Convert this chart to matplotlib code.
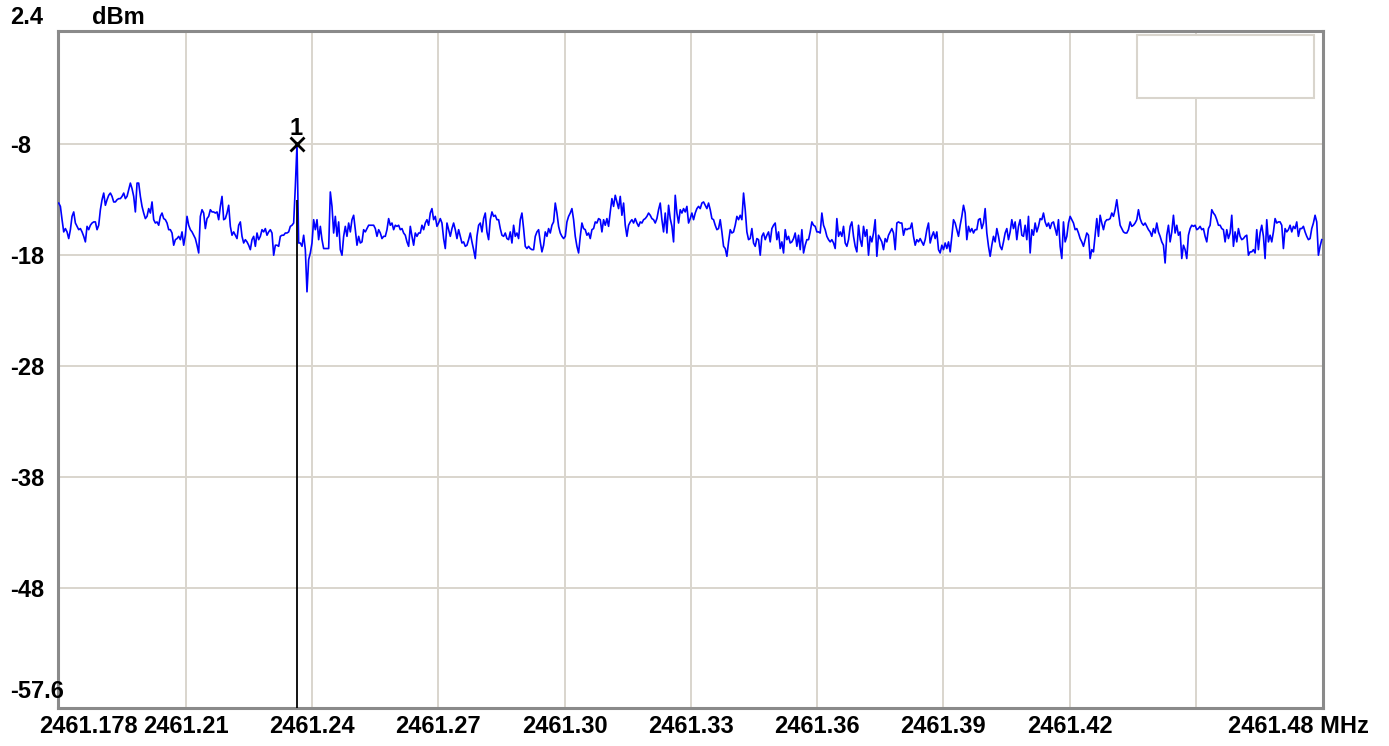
import numpy as np
import matplotlib
matplotlib.use("Agg")
import matplotlib.pyplot as plt
from matplotlib.patches import Rectangle

F_START = 2461.1798
F_STOP = 2461.4799
X_LIMITS = (2461.1797, 2461.4802)
Y_LIMITS = (-58.81, 2.18)

GRID_DBM = [-8, -18, -28, -38, -48]
GRID_DBM_LABELS = ["-8", "-18", "-28", "-38", "-48"]
GRID_MHZ = [2461.21, 2461.24, 2461.27, 2461.30, 2461.33, 2461.36, 2461.39, 2461.42, 2461.45]
GRID_MHZ_LABELS = ["2461.21", "2461.24", "2461.27", "2461.30", "2461.33",
                   "2461.36", "2461.39", "2461.42", ""]
TOP_LABEL = "2.4"
BOTTOM_LABEL = "-57.6"
UNIT_LABEL = "dBm"
START_LABEL = "2461.178"
STOP_LABEL = "2461.48 MHz"
MARKER_LABEL = "1"

TRACE_1 = [
    -13.3, -13.6, -14.8, -15.9, -15.6, -15.9, -16.5, -15.7, -14.5, -14.1,
    -15.1, -15.4, -15.7, -15.6, -15.9, -16.3, -16.8, -15.4, -15.7, -15.3,
    -15.1, -15.0, -15.0, -15.7, -15.3, -13.9, -13.0, -12.4, -13.5, -13.0,
    -12.6, -12.4, -12.7, -13.2, -13.2, -13.0, -12.9, -12.9, -12.7, -12.4,
    -12.9, -12.7, -12.1, -11.5, -12.0, -12.7, -14.1, -11.5, -11.5, -12.7,
    -13.6, -14.2, -14.7, -14.5, -13.8, -14.2, -13.2, -14.8, -15.1, -15.0,
    -15.3, -14.5, -14.2, -14.7, -14.8, -15.1, -15.7, -15.7, -16.0, -17.1,
    -16.6, -16.5, -16.3, -16.6, -15.9, -17.1, -16.2, -14.5, -15.3, -15.7,
    -15.9, -16.2, -16.5, -17.1, -17.8, -14.5, -13.9, -14.2, -15.6, -14.7,
    -14.5, -13.9, -14.1, -14.1, -14.2, -14.1, -14.8, -13.6, -12.7, -14.8,
    -14.7, -14.2, -13.5, -15.4, -16.2, -15.9, -16.2, -16.5, -15.3, -15.0,
    -16.3, -16.9, -16.6, -16.8, -17.1, -17.5, -16.6, -16.3, -17.2, -16.0,
    -16.6, -16.3, -15.7, -15.9, -15.6, -16.2, -15.9, -15.7,
]
TRACE_2 = [
    -16.0, -18.0, -17.1, -17.1, -17.2, -16.3, -16.2, -16.2, -16.0, -16.0,
    -15.9, -15.4, -15.3, -15.1, -11.8, -8.0, -16.9, -16.9, -17.2, -16.2,
    -17.5, -21.3, -18.4, -17.8, -16.9, -14.8, -15.7, -14.8, -16.6, -15.4,
    -16.6, -17.4, -17.4, -17.4, -17.4, -12.3, -13.6, -16.0, -14.5, -16.3,
    -15.0, -17.5, -18.0, -16.3, -15.4, -16.3, -15.1, -15.9, -14.8, -14.4,
    -15.7, -17.1, -16.3, -16.9, -16.8, -15.7, -15.9, -15.6, -15.3, -15.3,
    -15.3, -15.3, -15.6, -16.3, -15.7, -16.0, -16.5, -16.3, -16.3, -15.7,
    -14.7, -15.3, -15.1, -15.7, -15.3, -15.4, -15.3, -15.7, -15.6, -16.0,
    -16.2, -16.8, -17.2, -15.4, -16.3, -17.1, -16.0, -16.3, -16.0, -16.0,
    -15.3, -15.7, -15.1, -14.8, -15.3, -14.2, -13.8, -14.8, -14.5, -15.4,
    -15.1, -14.7, -15.1, -16.5, -17.4, -15.1, -15.7, -16.3, -15.6, -15.1,
    -15.7, -16.5, -15.7, -16.3, -16.9, -16.8, -17.2, -17.1, -16.6, -16.0,
    -16.8, -17.5, -18.3, -16.3, -15.3, -15.1,
]
TRACE_3 = [
    -15.9, -14.7, -14.2, -15.9, -16.6, -14.8, -14.1, -14.5, -14.4, -14.8,
    -14.8, -15.6, -16.2, -16.3, -16.0, -16.5, -16.6, -15.9, -16.9, -15.3,
    -16.3, -16.0, -16.5, -14.8, -14.2, -15.6, -17.2, -17.4, -17.2, -17.4,
    -17.5, -17.5, -16.3, -15.9, -15.7, -16.8, -17.7, -17.1, -15.9, -16.3,
    -15.6, -16.0, -15.3, -15.0, -13.3, -14.2, -15.4, -16.0, -16.3, -16.5,
    -16.3, -15.0, -14.5, -14.2, -13.8, -14.8, -16.3, -17.2, -17.8, -16.3,
    -15.1, -15.6, -15.7, -16.2, -16.0, -16.5, -15.7, -15.6, -15.0, -15.1,
    -14.7, -14.8, -15.9, -14.8, -15.3, -14.7, -15.4, -14.1, -12.9, -13.6,
    -12.6, -13.2, -13.8, -12.7, -14.4, -13.3, -15.3, -16.3, -15.3, -15.0,
    -14.8, -15.1, -14.7, -15.1, -15.4, -15.0, -15.1, -14.8, -14.7, -14.5,
    -14.2, -14.4, -14.7, -14.8, -15.1, -14.7, -13.9, -13.3, -14.8, -15.9,
    -14.2, -16.0, -13.5, -14.7, -15.4, -16.8, -12.6, -14.2, -15.1, -13.9,
    -14.2, -13.8, -14.1, -13.6, -15.1, -14.7,
]
TRACE_4 = [
    -14.2, -14.8, -14.2, -13.8, -13.6, -13.8, -13.3, -13.2, -13.5, -13.8,
    -13.3, -13.9, -14.7, -14.8, -15.3, -15.7, -15.6, -14.8, -15.9, -17.2,
    -17.4, -18.1, -16.8, -15.7, -16.0, -15.9, -15.3, -14.5, -14.8, -14.4,
    -14.8, -12.4, -13.9, -15.9, -16.6, -16.5, -15.6, -16.9, -17.2, -16.5,
    -16.6, -18.0, -16.3, -16.0, -16.6, -16.2, -15.9, -16.8, -15.6, -15.3,
    -15.1, -16.6, -15.9, -17.4, -16.8, -17.8, -15.7, -16.6, -16.3, -16.9,
    -16.8, -16.5, -16.0, -17.2, -16.2, -17.5, -15.7, -17.8, -17.1, -16.6,
    -16.6, -15.9, -15.0, -15.3, -15.4, -15.9, -15.9, -16.0, -14.2, -15.3,
    -15.7, -16.3, -16.6, -16.8, -16.6, -16.9, -17.4, -14.7, -16.3, -15.9,
    -16.3, -15.4, -16.9, -17.2, -16.6, -15.4, -15.0, -16.3, -17.2, -17.7,
    -15.3, -16.6, -17.2, -15.4, -16.3, -15.7, -18.0, -16.3, -16.8, -16.0,
    -14.8, -18.1, -16.2, -16.5, -16.8, -17.5, -16.5, -16.8, -16.2, -15.9,
    -15.6, -16.0, -17.5, -15.1, -15.0, -15.1,
]
TRACE_5 = [
    -15.1, -16.2, -15.6, -15.7, -15.6, -15.6, -15.1, -16.3, -17.1, -16.6,
    -16.8, -16.5, -16.8, -17.1, -16.6, -15.7, -15.1, -16.9, -16.3, -15.9,
    -16.5, -15.9, -17.5, -17.8, -17.1, -17.5, -16.9, -17.4, -16.8, -17.7,
    -16.3, -14.8, -15.1, -15.7, -16.3, -15.3, -14.5, -13.5, -14.2, -16.6,
    -15.4, -15.9, -15.6, -16.0, -15.7, -15.7, -14.8, -14.7, -15.6, -15.1,
    -13.8, -16.0, -17.2, -18.1, -17.1, -16.3, -16.8, -15.6, -16.3, -17.2,
    -17.5, -16.8, -16.0, -15.6, -16.6, -15.9, -14.8, -15.6, -15.0, -16.6,
    -15.4, -14.8, -16.2, -16.3, -15.3, -16.6, -14.5, -17.8, -15.7, -16.2,
    -15.1, -15.9, -15.4, -14.7, -14.8, -14.2, -15.0, -15.4, -15.1, -15.6,
    -15.1, -15.0, -15.6, -16.2, -14.8, -17.2, -18.3, -15.0, -16.8, -16.3,
    -15.1, -14.5, -14.8, -15.1, -15.7, -15.6, -16.0, -16.5, -16.8, -17.2,
    -16.6, -16.0, -16.2, -18.3, -17.5, -17.7, -16.2, -14.7, -16.3, -14.4,
    -15.1, -15.7, -15.0, -14.8, -14.8, -14.7,
]
TRACE_6 = [
    -14.2, -14.5, -13.9, -13.0, -14.2, -15.3, -15.6, -15.9, -16.0, -16.0,
    -15.7, -15.0, -15.4, -15.3, -15.1, -14.8, -13.9, -14.7, -15.1, -15.3,
    -15.1, -15.4, -15.7, -15.9, -16.3, -15.6, -16.0, -15.1, -15.9, -16.3,
    -16.8, -17.1, -18.7, -16.2, -15.3, -16.8, -15.9, -14.4, -16.0, -15.3,
    -16.2, -15.9, -18.3, -17.1, -17.5, -18.3, -16.2, -15.6, -15.3, -15.4,
    -15.3, -15.7, -15.6, -15.4, -15.7, -15.6, -16.3, -16.8, -15.6, -15.3,
    -13.9, -14.2, -14.4, -14.8, -15.3, -15.3, -15.6, -15.7, -16.8, -15.7,
    -16.5, -16.0, -14.4, -17.2, -15.9, -16.8, -15.6, -16.3, -16.6, -16.5,
    -16.3, -16.2, -18.0, -17.7, -17.7, -17.5, -17.8, -15.7, -17.5, -16.0,
    -15.3, -16.3, -18.3, -14.8, -16.8, -16.2, -16.8, -15.9, -14.7, -15.1,
    -15.0, -15.0, -15.3, -17.4, -15.6, -15.9, -15.7, -15.3, -15.9, -15.4,
    -15.6, -15.0, -16.3, -15.6, -15.6, -15.4, -15.9, -16.3, -16.6, -16.5,
    -15.6, -15.1, -14.4, -15.0, -18.0, -17.2, -16.6,
]

trace = np.concatenate([TRACE_1, TRACE_2, TRACE_3, TRACE_4, TRACE_5, TRACE_6])
freq = np.linspace(F_START, F_STOP, len(trace))
peak = int(np.argmax(trace))

FONT = dict(family=["Liberation Sans", "DejaVu Sans"], weight="bold", size=17)
GRID_COLOR = "#d9d5cd"
FRAME_COLOR = "#8a8a8a"

fig = plt.figure(figsize=(13.89, 7.46), dpi=100)
ax = fig.add_axes([58.3 / 1389, 38 / 746, (1323 - 58.3) / 1389, (708 - 31.3) / 746])

ax.plot(freq, trace, color="#0000ff", lw=1.2, zorder=3)

# marker 1 on the peak, with its drop line to the bottom of the screen
ax.vlines(freq[peak], Y_LIMITS[0], -13.0, color="black", lw=1.3, zorder=4)
ax.plot(freq[peak], trace[peak], marker="x", ms=10, mew=2, color="black", zorder=5)
ax.annotate(MARKER_LABEL, (freq[peak], trace[peak]), xytext=(-1, 6.5),
            textcoords="offset points", ha="center", va="baseline", **FONT)

# empty marker readout box in the top right corner
ax.add_patch(Rectangle((0.853, 0.901), 0.140, 0.093, transform=ax.transAxes,
                       facecolor="white", edgecolor=GRID_COLOR, lw=1.5, zorder=2))

ax.set_xlim(*X_LIMITS)
ax.set_ylim(*Y_LIMITS)
ax.set_xticks(GRID_MHZ)
ax.set_xticklabels(GRID_MHZ_LABELS, **FONT)
ax.set_yticks(GRID_DBM)
ax.set_yticklabels(GRID_DBM_LABELS, **FONT)
for lbl in ax.get_yticklabels():
    lbl.set_ha("left")
ax.tick_params(axis="x", length=0, pad=5.0)
ax.tick_params(axis="y", length=0, pad=34.6)
ax.grid(True, color=GRID_COLOR, lw=1.4, zorder=1)
ax.set_axisbelow(True)

for s in ax.spines.values():
    s.set_color(FRAME_COLOR)
    s.set_linewidth(2.2)

# scale end labels, drawn the way the analyser puts them
ax.annotate(TOP_LABEL, (0, 1), xycoords="axes fraction", xytext=(-34.6, 5.5),
            textcoords="offset points", ha="left", va="baseline", **FONT)
ax.annotate(UNIT_LABEL, (0, 1), xycoords="axes fraction", xytext=(24.5, 5.5),
            textcoords="offset points", ha="left", va="baseline", **FONT)
ax.annotate(BOTTOM_LABEL, (0, 0), xycoords="axes fraction", xytext=(-34.6, 7),
            textcoords="offset points", ha="left", va="baseline", **FONT)
ax.annotate(START_LABEL, (0, 0), xycoords="axes fraction", xytext=(21.6, -5.0),
            textcoords="offset points", ha="center", va="top", **FONT)
ax.annotate(STOP_LABEL, (1, 0), xycoords="axes fraction", xytext=(-17.6, -5.0),
            textcoords="offset points", ha="center", va="top", **FONT)

fig.savefig("out.png", dpi=100, facecolor="white")
